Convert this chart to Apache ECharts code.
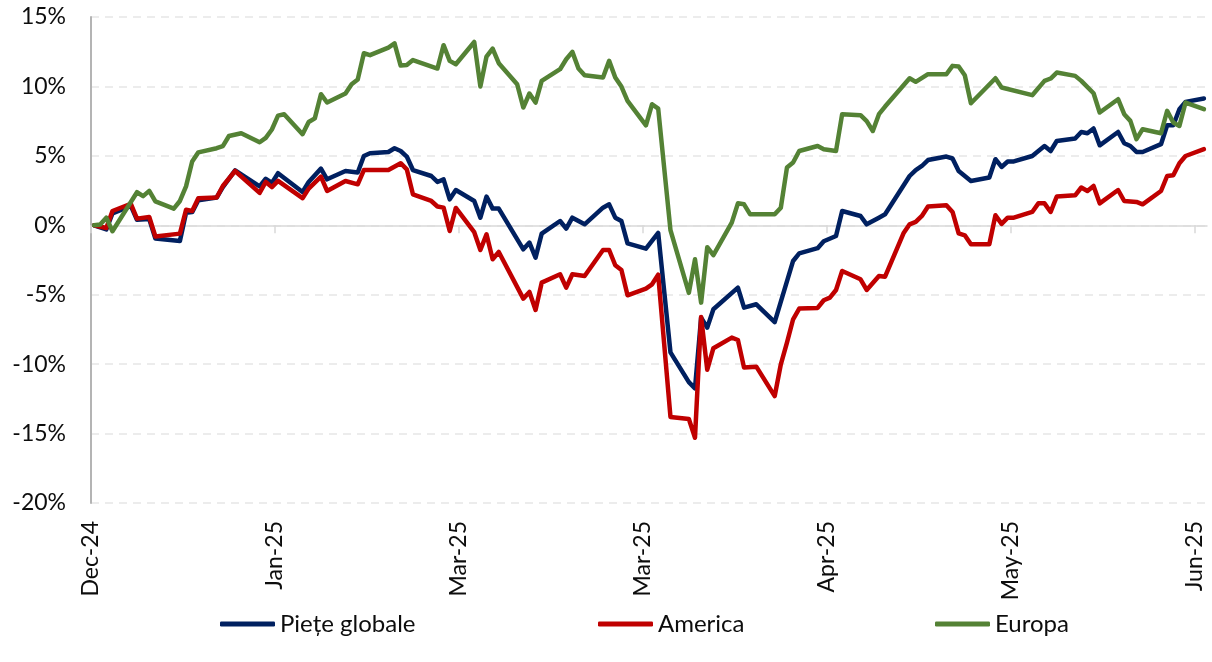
<!DOCTYPE html>
<html>
<head>
<meta charset="utf-8">
<script src="https://cdn.jsdelivr.net/npm/echarts@6/dist/echarts.min.js"></script>
<style>
html,body{margin:0;padding:0;background:#fff;}
#chart{width:1212px;height:662px;}
</style>
</head>
<body>
<div id="chart"></div>
<script>
// ---- data (cumulative performance, %) ----
const seriesNames = ['Piețe globale', 'America', 'Europa'];
const tickDays = [0, 30, 60, 90, 120, 150, 180]; // days after 2024-12-31
const yTicks = [-20, -15, -10, -5, 0, 5, 10, 15];

const pieteGlobale = [
['2024-12-31',0],['2025-01-02',-0.3],['2025-01-03',0.85],['2025-01-06',1.4],['2025-01-07',0.4],['2025-01-09',0.45],
['2025-01-10',-0.95],['2025-01-14',-1.13],['2025-01-15',0.9],['2025-01-16',0.95],['2025-01-17',1.8],['2025-01-20',2.0],
['2025-01-21',2.75],['2025-01-23',3.95],['2025-01-27',2.8],['2025-01-28',3.35],['2025-01-29',3.05],['2025-01-30',3.75],
['2025-02-03',2.4],['2025-02-04',3.12],['2025-02-06',4.08],['2025-02-07',3.31],['2025-02-10',3.91],['2025-02-12',3.8],
['2025-02-13',4.99],['2025-02-14',5.19],['2025-02-17',5.28],['2025-02-18',5.55],['2025-02-19',5.35],['2025-02-20',4.95],
['2025-02-21',3.98],['2025-02-24',3.55],['2025-02-25',3.12],['2025-02-26',3.31],['2025-02-27',1.87],['2025-02-28',2.54],
['2025-03-03',1.75],['2025-03-04',0.55],['2025-03-05',2.07],['2025-03-06',1.2],['2025-03-07',1.2],['2025-03-11',-1.73],
['2025-03-12',-1.25],['2025-03-13',-2.33],['2025-03-14',-0.6],['2025-03-17',0.31],['2025-03-18',-0.24],['2025-03-19',0.55],
['2025-03-21',0.07],['2025-03-24',1.27],['2025-03-25',1.51],['2025-03-26',0.55],['2025-03-27',0.31],['2025-03-28',-1.3],
['2025-03-31',-1.68],['2025-04-02',-0.55],['2025-04-04',-9.15],['2025-04-07',-11.3],['2025-04-08',-11.75],['2025-04-09',-6.65],
['2025-04-10',-7.37],['2025-04-11',-6.05],['2025-04-15',-4.49],['2025-04-16',-5.93],['2025-04-18',-5.69],['2025-04-21',-6.97],
['2025-04-24',-2.57],['2025-04-25',-2.02],['2025-04-28',-1.65],['2025-04-29',-1.15],['2025-05-01',-0.77],['2025-05-02',1.03],
['2025-05-05',0.67],['2025-05-06',0.07],['2025-05-08',0.55],['2025-05-09',0.79],['2025-05-13',3.55],['2025-05-14',3.98],
['2025-05-15',4.27],['2025-05-16',4.7],['2025-05-19',4.95],['2025-05-20',4.81],['2025-05-21',3.91],['2025-05-23',3.19],
['2025-05-26',3.44],['2025-05-27',4.76],['2025-05-28',4.2],['2025-05-29',4.59],['2025-05-30',4.6],['2025-06-02',4.99],
['2025-06-04',5.71],['2025-06-05',5.35],['2025-06-06',6.07],['2025-06-09',6.25],['2025-06-10',6.72],['2025-06-11',6.63],
['2025-06-12',6.97],['2025-06-13',5.76],['2025-06-16',6.72],['2025-06-17',5.91],['2025-06-18',5.71],['2025-06-19',5.28],
['2025-06-20',5.28],['2025-06-23',5.84],['2025-06-24',7.2],['2025-06-25',7.2],['2025-06-26',8.36],['2025-06-27',8.89],
['2025-06-30',9.13]
];

const america = [
['2024-12-31',0],['2025-01-02',-0.2],['2025-01-03',1.03],['2025-01-06',1.55],['2025-01-07',0.48],['2025-01-09',0.6],
['2025-01-10',-0.81],['2025-01-14',-0.6],['2025-01-15',1.12],['2025-01-16',1.03],['2025-01-17',1.95],['2025-01-20',2.0],
['2025-01-21',2.83],['2025-01-23',3.91],['2025-01-27',2.33],['2025-01-28',3.12],['2025-01-29',2.75],['2025-01-30',3.2],
['2025-02-03',1.95],['2025-02-04',2.64],['2025-02-06',3.51],['2025-02-07',2.47],['2025-02-10',3.19],['2025-02-12',2.95],
['2025-02-13',3.98],['2025-02-17',3.98],['2025-02-19',4.47],['2025-02-20',4.03],['2025-02-21',2.23],['2025-02-24',1.75],
['2025-02-25',1.35],['2025-02-26',1.27],['2025-02-27',-0.41],['2025-02-28',1.25],['2025-03-03',-0.5],['2025-03-04',-1.78],
['2025-03-05',-0.65],['2025-03-06',-2.45],['2025-03-07',-1.92],['2025-03-11',-5.28],['2025-03-12',-4.8],['2025-03-13',-6.1],
['2025-03-14',-4.13],['2025-03-17',-3.53],['2025-03-18',-4.49],['2025-03-19',-3.53],['2025-03-21',-3.65],['2025-03-24',-1.78],
['2025-03-25',-1.78],['2025-03-26',-2.88],['2025-03-27',-3.22],['2025-03-28',-5.04],['2025-03-31',-4.56],['2025-04-01',-4.25],
['2025-04-02',-3.55],['2025-04-04',-13.8],['2025-04-07',-13.95],['2025-04-08',-15.3],['2025-04-09',-6.6],['2025-04-10',-10.4],
['2025-04-11',-8.85],['2025-04-14',-8.09],['2025-04-15',-8.26],['2025-04-16',-10.25],['2025-04-18',-10.18],['2025-04-21',-12.3],
['2025-04-22',-10.01],['2025-04-23',-8.45],['2025-04-24',-6.77],['2025-04-25',-6.0],['2025-04-28',-5.95],['2025-04-29',-5.4],
['2025-04-30',-5.21],['2025-05-01',-4.66],['2025-05-02',-3.29],['2025-05-05',-3.89],['2025-05-06',-4.66],['2025-05-08',-3.65],
['2025-05-09',-3.7],['2025-05-12',-0.58],['2025-05-13',0.07],['2025-05-14',0.24],['2025-05-15',0.67],['2025-05-16',1.35],
['2025-05-19',1.44],['2025-05-20',0.96],['2025-05-21',-0.58],['2025-05-22',-0.72],['2025-05-23',-1.37],['2025-05-26',-1.37],
['2025-05-27',0.72],['2025-05-28',0.1],['2025-05-29',0.55],['2025-05-30',0.55],['2025-06-02',0.96],['2025-06-03',1.58],
['2025-06-04',1.58],['2025-06-05',0.96],['2025-06-06',2.07],['2025-06-09',2.16],['2025-06-10',2.72],['2025-06-11',2.47],
['2025-06-12',2.83],['2025-06-13',1.58],['2025-06-16',2.54],['2025-06-17',1.75],['2025-06-19',1.68],['2025-06-20',1.51],
['2025-06-23',2.47],['2025-06-24',3.55],['2025-06-25',3.6],['2025-06-26',4.47],['2025-06-27',4.99],['2025-06-30',5.48]
];

const europa = [
['2024-12-31',0],['2025-01-01',0.05],['2025-01-02',0.55],['2025-01-03',-0.43],['2025-01-07',2.38],['2025-01-08',2.1],
['2025-01-09',2.48],['2025-01-10',1.72],['2025-01-13',1.2],['2025-01-14',1.75],['2025-01-15',2.8],['2025-01-16',4.6],
['2025-01-17',5.25],['2025-01-20',5.55],['2025-01-21',5.7],['2025-01-22',6.43],['2025-01-24',6.63],['2025-01-27',5.98],
['2025-01-28',6.3],['2025-01-29',6.9],['2025-01-30',7.9],['2025-01-31',8.0],['2025-02-03',6.56],['2025-02-04',7.44],
['2025-02-05',7.7],['2025-02-06',9.44],['2025-02-07',8.84],['2025-02-10',9.49],['2025-02-11',10.16],['2025-02-12',10.5],
['2025-02-13',12.39],['2025-02-14',12.25],['2025-02-17',12.8],['2025-02-18',13.1],['2025-02-19',11.5],['2025-02-20',11.55],
['2025-02-21',11.9],['2025-02-25',11.29],['2025-02-26',12.97],['2025-02-27',11.84],['2025-02-28',11.6],['2025-03-03',13.2],
['2025-03-04',9.99],['2025-03-05',12.15],['2025-03-06',12.73],['2025-03-07',11.67],['2025-03-10',10.16],['2025-03-11',8.48],
['2025-03-12',9.49],['2025-03-13',8.84],['2025-03-14',10.4],['2025-03-17',11.24],['2025-03-18',11.96],['2025-03-19',12.49],
['2025-03-20',11.29],['2025-03-21',10.8],['2025-03-24',10.64],['2025-03-25',11.84],['2025-03-26',10.64],['2025-03-27',9.99],
['2025-03-28',8.96],['2025-03-31',7.2],['2025-04-01',8.72],['2025-04-02',8.4],['2025-04-04',-0.35],['2025-04-07',-4.87],
['2025-04-08',-2.45],['2025-04-09',-5.57],['2025-04-10',-1.58],['2025-04-11',-2.15],['2025-04-14',0.19],['2025-04-15',1.58],
['2025-04-16',1.51],['2025-04-17',0.79],['2025-04-21',0.79],['2025-04-22',1.27],['2025-04-23',4.16],['2025-04-24',4.52],
['2025-04-25',5.35],['2025-04-28',5.71],['2025-04-29',5.48],['2025-05-01',5.35],['2025-05-02',8.0],['2025-05-05',7.93],
['2025-05-06',7.5],['2025-05-07',6.79],['2025-05-08',8.0],['2025-05-09',8.55],['2025-05-13',10.59],['2025-05-14',10.33],
['2025-05-16',10.88],['2025-05-19',10.88],['2025-05-20',11.48],['2025-05-21',11.43],['2025-05-22',10.8],['2025-05-23',8.79],
['2025-05-27',10.59],['2025-05-28',9.92],['2025-06-02',9.37],['2025-06-04',10.4],['2025-06-05',10.57],['2025-06-06',11.0],
['2025-06-09',10.76],['2025-06-10',10.4],['2025-06-12',9.51],['2025-06-13',8.12],['2025-06-16',9.08],['2025-06-17',8.0],
['2025-06-18',7.52],['2025-06-19',6.2],['2025-06-20',6.92],['2025-06-23',6.63],['2025-06-24',8.24],['2025-06-25',7.4],
['2025-06-26',7.15],['2025-06-27',8.84],['2025-06-30',8.36]
];

// ---- helpers ----
const DAY = 86400000;
const BASE = Date.UTC(2024, 11, 31);
const MONTHS = ['Jan','Feb','Mar','Apr','May','Jun','Jul','Aug','Sep','Oct','Nov','Dec'];
function toX(s) {
  const p = s.split('-').map(Number);
  return (Date.UTC(p[0], p[1] - 1, p[2]) - BASE) / DAY + 0.5; // each day occupies one slot
}
function fmtDay(v) {
  const d = new Date(BASE + Math.round(v) * DAY);
  return MONTHS[d.getUTCMonth()] + '-' + String(d.getUTCFullYear()).slice(2);
}
const conv = arr => arr.map(r => [toX(r[0]), r[1]]);

const FONT = 'Lato';
const TXT = '#0d0d0d';
const colors = ['#002060', '#C00000', '#548235'];
const seriesData = [pieteGlobale, america, europa];
const legendLeft = [215, 593, 930];

const chart = echarts.init(document.getElementById('chart'), null, { renderer: 'canvas' });
chart.setOption({
  animation: false,
  backgroundColor: '#ffffff',
  textStyle: { fontFamily: FONT },
  grid: { left: 91, right: 5, top: 17, bottom: 159 },
  legend: seriesNames.map((name, i) => ({
    data: [name],
    left: legendLeft[i],
    top: 607,
    icon: 'roundRect',
    itemWidth: 55,
    itemHeight: 5,
    textStyle: { fontFamily: FONT, fontSize: 24, color: TXT }
  })),
  xAxis: [
    {
      type: 'value', min: 0, max: 182, position: 'bottom',
      axisLine: { show: true, onZero: true, lineStyle: { color: '#d9d9d9', width: 1.5 } },
      axisTick: { show: true, customValues: tickDays, length: 8, lineStyle: { color: '#d9d9d9', width: 1.5 } },
      axisLabel: { show: false },
      splitLine: { show: false }
    },
    {
      type: 'value', min: 0, max: 182, position: 'bottom',
      axisLine: { show: false, onZero: false },
      axisTick: { show: false },
      axisLabel: {
        show: true, customValues: tickDays, rotate: 90, margin: 18,
        fontFamily: FONT, fontSize: 23, color: TXT,
        padding: [3, 0, 0, 0],
        formatter: v => fmtDay(v)
      },
      splitLine: { show: false }
    }
  ],
  yAxis: {
    type: 'value', min: -20, max: 15, interval: 5,
    axisLine: { show: true, onZero: false, lineStyle: { color: '#b4b4b4', width: 2 } },
    axisTick: { show: false },
    axisLabel: { fontFamily: FONT, fontSize: 23, color: TXT, margin: 25, formatter: v => v + '%' },
    splitLine: { show: true, lineStyle: { color: '#e6e6e6', width: 1.5, type: [8, 6] } }
  },
  series: seriesNames.map((name, i) => ({
    name: name,
    type: 'line',
    xAxisIndex: 0,
    data: conv(seriesData[i]),
    showSymbol: false,
    symbol: 'none',
    color: colors[i],
    lineStyle: { color: colors[i], width: 4.5, cap: 'round', join: 'round' },
    z: 2 + i
  }))
});
</script>
</body>
</html>
